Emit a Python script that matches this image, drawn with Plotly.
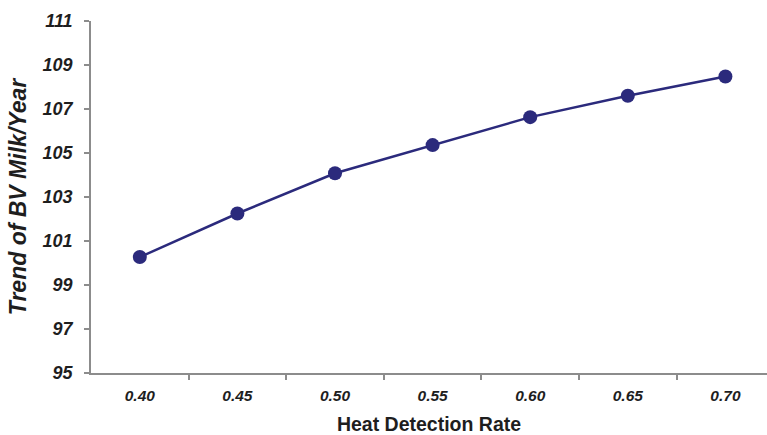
import plotly.graph_objects as go

rates = [0.40, 0.45, 0.50, 0.55, 0.60, 0.65, 0.70]
rate_labels = ["0.40", "0.45", "0.50", "0.55", "0.60", "0.65", "0.70"]
trend = [100.27, 102.25, 104.08, 105.36, 106.63, 107.6, 108.48]
y_ticks = [95, 97, 99, 101, 103, 105, 107, 109, 111]
boundaries = [0.425, 0.475, 0.525, 0.575, 0.625, 0.675]

FONT = "Liberation Sans, Arial, sans-serif"
NAVY = "#2b2a7c"
TXT = "#1e1e1e"

fig = go.Figure()
fig.add_trace(go.Scatter(
    x=rates, y=trend, mode="lines+markers",
    line=dict(color=NAVY, width=2.5),
    marker=dict(color=NAVY, size=14),
    showlegend=False, cliponaxis=False,
))

fig.update_layout(
    width=767, height=435,
    margin=dict(l=91, r=0, t=21, b=62),
    paper_bgcolor="white", plot_bgcolor="white",
    font=dict(family=FONT, color=TXT),
)
fig.update_xaxes(
    range=[0.375, 0.7213], automargin=False,
    tickvals=rates, ticktext=[f"<b><i>{t}</i></b>" for t in rate_labels],
    tickfont=dict(size=15.5, family=FONT, color=TXT),
    ticks="", showgrid=False, zeroline=False,
    showline=True, linecolor="#8c8c8c", linewidth=1.5,
    ticklabelstandoff=8,
    minor=dict(tickvals=boundaries, ticks="outside", ticklen=5, tickcolor="#8c8c8c", tickwidth=1.5, showgrid=False),
    title=dict(text="<b>Heat Detection Rate</b>", font=dict(size=19.5, family=FONT, color=TXT), standoff=14),
)
fig.update_yaxes(
    range=[95, 111], automargin=False,
    tickvals=y_ticks, ticktext=[f"<b><i>{v}</i></b>" for v in y_ticks],
    tickfont=dict(size=18, family=FONT, color=TXT),
    ticks="outside", ticklen=5, tickcolor="#8c8c8c", tickwidth=1.5,
    showgrid=False, zeroline=False,
    showline=True, linecolor="#8c8c8c", linewidth=1.5,
    ticklabelstandoff=8,
    title=dict(text="<b><i>Trend of BV Milk/Year</i></b>", font=dict(size=23, family=FONT, color=TXT), standoff=10),
)

fig.write_html(
    "out.html",
    config={"displayModeBar": False},
    post_script="document.body.style.margin='0';document.body.style.overflow='hidden';",
)
